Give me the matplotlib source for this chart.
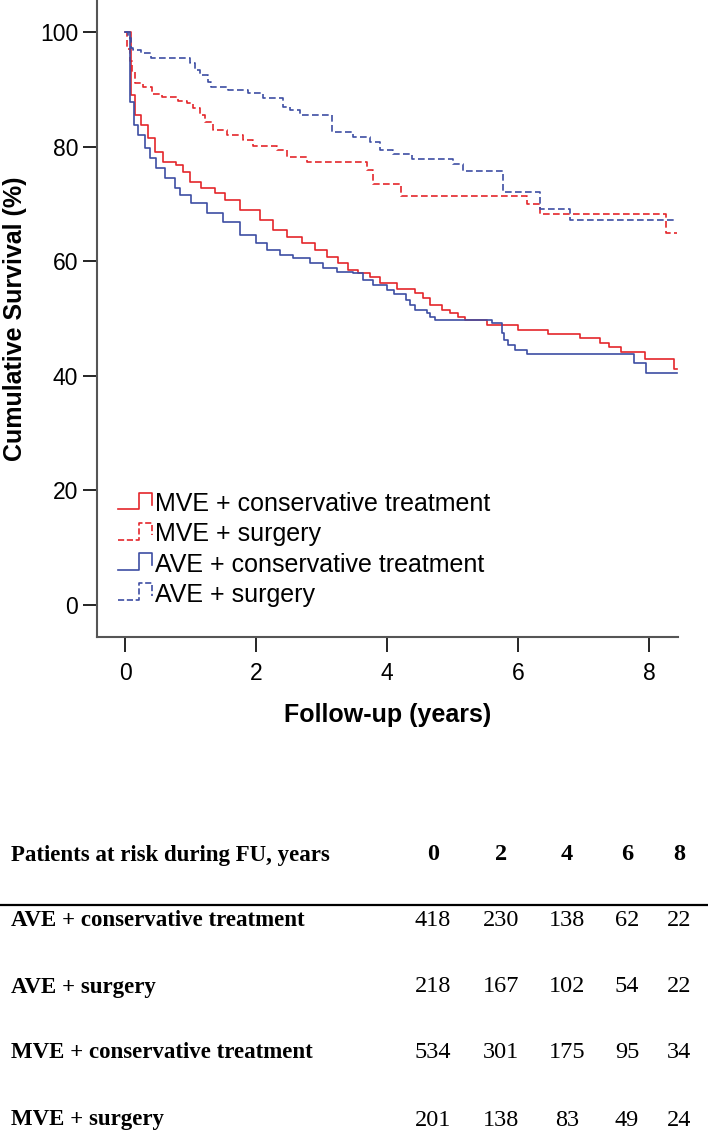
import matplotlib
matplotlib.use('Agg')
import matplotlib.pyplot as plt
from matplotlib.lines import Line2D
from matplotlib.legend_handler import HandlerBase

# ---------------- data ----------------
mve_cons_t = [0, 0.09, 0.15, 0.24, 0.35, 0.46, 0.58, 0.78, 0.89, 0.99, 1.16, 1.37, 1.52,
              1.76, 2.06, 2.26, 2.47, 2.70, 2.90, 3.08, 3.25, 3.40, 3.56, 3.74, 3.89,
              4.15, 4.43, 4.55, 4.66, 4.84, 4.96, 5.08, 5.19, 5.53, 6.00, 6.46, 6.95,
              7.25, 7.39, 7.57, 7.94, 8.38, 8.43]
mve_cons_s = [100, 89.0, 85.5, 83.8, 81.5, 79.1, 77.3, 76.8, 75.6, 73.8, 72.8, 71.9, 70.6,
              68.9, 67.2, 65.4, 64.2, 63.2, 62.0, 60.7, 59.7, 58.5, 57.9, 57.2, 56.2,
              55.1, 54.5, 53.6, 52.4, 51.5, 51.0, 50.3, 49.7, 48.9, 48.0, 47.3, 46.6,
              45.8, 45.0, 44.1, 42.9, 41.2, 41.2]

mve_surg_t = [0, 0.03, 0.07, 0.10, 0.15, 0.27, 0.41, 0.56, 0.81, 0.95, 1.04, 1.15, 1.22,
              1.34, 1.56, 1.80, 1.95, 2.32, 2.47, 2.78, 3.69, 3.79, 4.21, 6.14, 6.34,
              8.26, 8.43]
mve_surg_s = [100, 97.0, 95.0, 93.0, 91.1, 90.4, 89.2, 88.6, 88.0, 87.6, 86.7, 85.5, 84.3,
              82.9, 82.0, 81.2, 80.1, 79.4, 78.2, 77.3, 75.9, 73.5, 71.4, 70.0, 68.2,
              64.9, 64.9]

ave_cons_t = [0, 0.08, 0.14, 0.20, 0.30, 0.38, 0.47, 0.61, 0.76, 0.84, 1.00, 1.25, 1.50,
              1.75, 2.00, 2.16, 2.37, 2.56, 2.82, 3.02, 3.24, 3.48, 3.63, 3.79, 4.00,
              4.11, 4.28, 4.35, 4.43, 4.61, 4.66, 4.73, 5.60, 5.76, 5.78, 5.85, 5.95,
              6.14, 7.77, 7.95, 8.43]
ave_cons_s = [100, 87.8, 83.8, 82.0, 79.8, 78.0, 76.3, 74.5, 72.8, 71.6, 70.2, 68.4, 66.8,
              64.6, 63.2, 62.0, 61.1, 60.6, 59.7, 58.8, 58.1, 57.9, 56.7, 55.8, 55.0,
              54.3, 53.2, 52.4, 51.5, 51.0, 50.3, 49.7, 49.2, 47.5, 46.2, 45.4, 44.5,
              43.8, 42.2, 40.5, 40.5]

ave_surg_t = [0, 0.04, 0.09, 0.12, 0.24, 0.40, 0.99, 1.07, 1.15, 1.27, 1.31, 1.57, 1.88,
              2.11, 2.41, 2.52, 2.67, 3.16, 3.48, 3.74, 3.89, 4.09, 4.38, 5.01, 5.16,
              5.77, 6.34, 6.79, 8.43]
ave_surg_s = [100, 98.9, 97.2, 96.9, 96.3, 95.4, 94.6, 93.4, 92.5, 91.3, 90.4, 89.9, 89.4,
              88.5, 86.9, 86.4, 85.5, 82.6, 81.7, 80.8, 79.4, 78.7, 77.8, 77.0, 75.7,
              72.1, 69.1, 67.2, 67.2]

legend_labels = ["MVE + conservative treatment", "MVE + surgery",
                 "AVE + conservative treatment", "AVE + surgery"]

x_ticks = [0, 2, 4, 6, 8]
y_ticks = [0, 20, 40, 60, 80, 100]

risk_title = "Patients at risk during FU, years"
risk_years = ["0", "2", "4", "6", "8"]
risk_groups = ["AVE + conservative treatment", "AVE + surgery",
               "MVE + conservative treatment", "MVE + surgery"]
risk_ave_cons = [418, 230, 138, 62, 22]
risk_ave_surg = [218, 167, 102, 54, 22]
risk_mve_cons = [534, 301, 175, 95, 34]
risk_mve_surg = [201, 138, 83, 49, 24]

# ---------------- styling ----------------
RED = '#e4262b'
BLUE = '#3d4ea3'
W, H = 708, 1136

plt.rcParams['font.family'] = ['Liberation Sans', 'DejaVu Sans']

fig = plt.figure(figsize=(W / 100, H / 100), dpi=100)


def fx(x):
    return x / W


def fy(y):
    return 1 - y / H


ax_l, ax_r, ax_t, ax_b = 97, 678, 0, 637
ax = fig.add_axes([fx(ax_l), fy(ax_b), (ax_r - ax_l) / W, (ax_b - ax_t) / H])

lw = 1.2
ax.step(mve_cons_t, mve_cons_s, where='post', color=RED, lw=lw, ls='-', label=legend_labels[0])
ax.step(mve_surg_t, mve_surg_s, where='post', color=RED, lw=lw, ls=(0, (4, 2)), label=legend_labels[1])
ax.step(ave_cons_t, ave_cons_s, where='post', color=BLUE, lw=lw, ls='-', label=legend_labels[2])
ax.step(ave_surg_t, ave_surg_s, where='post', color=BLUE, lw=lw, ls=(0, (4, 2)), label=legend_labels[3])

ax.set_xlim(-0.43, 8.44)
ax.set_ylim(-5.6, 105.6)
ax.set_xticks(x_ticks)
ax.set_yticks(y_ticks)
ax.spines['top'].set_visible(False)
ax.spines['right'].set_visible(False)
for s in ('left', 'bottom'):
    ax.spines[s].set_color('#555555')
    ax.spines[s].set_linewidth(1.5)
ax.tick_params(axis='y', length=10, width=1.2, color='black', labelsize=16.5, pad=3.5)
ax.tick_params(axis='x', length=11, width=1.2, color='black', labelsize=16.5, pad=7)

ax.set_xlabel("Follow-up (years)", fontsize=18, fontweight='bold', labelpad=13)
ax.set_ylabel("Cumulative Survival (%)", fontsize=18, fontweight='bold', labelpad=9)


class StepHandler(HandlerBase):
    def create_artists(self, legend, orig_handle, xdescent, ydescent, width, height,
                       fontsize, trans):
        x0, y0 = -xdescent, -ydescent
        xs = [x0, x0 + 0.6 * width, x0 + 0.6 * width, x0 + width, x0 + width]
        ys = [y0 + 0.1 * height, y0 + 0.1 * height, y0 + 1.05 * height,
              y0 + 1.05 * height, y0 + 0.35 * height]
        ln = Line2D(xs, ys, color=orig_handle.get_color(),
                    linestyle=orig_handle.get_linestyle(),
                    linewidth=orig_handle.get_linewidth())
        ln.set_transform(trans)
        return [ln]


handles, labels = ax.get_legend_handles_labels()
ax.legend(handles, labels, handler_map={h: StepHandler() for h in handles},
          loc='upper left', bbox_to_anchor=((118 - ax_l) / (ax_r - ax_l), (ax_b - 492) / (ax_b - ax_t)),
          frameon=False, fontsize=18, borderpad=0, borderaxespad=0,
          handlelength=1.37, handletextpad=0.12, labelspacing=0.25)

# ---------------- at-risk table ----------------
col_x = [433, 501, 567, 627, 679]
row_y = [921, 987, 1053, 1120]
serif = ['Liberation Serif', 'DejaVu Serif']
lab_fs = 16.5
num_fs = 17.5

fig.text(fx(11), fy(855), risk_title, family=serif, fontsize=lab_fs, fontweight='bold',
         ha='left', va='center')
for cx, lab in zip(col_x, risk_years):
    fig.text(fx(cx), fy(855), lab, family=serif, fontsize=num_fs, fontweight='bold',
             ha='center', va='center')

fig.add_artist(Line2D([0, 1], [fy(905), fy(905)], transform=fig.transFigure,
                      color='black', lw=1.6))

rows = [risk_ave_cons, risk_ave_surg, risk_mve_cons, risk_mve_surg]
for ry, grp, vals in zip(row_y, risk_groups, rows):
    fig.text(fx(11), fy(ry), grp, family=serif, fontsize=lab_fs, fontweight='bold',
             ha='left', va='center')
    for cx, v in zip(col_x, vals):
        fig.text(fx(cx), fy(ry), str(v), family=serif, fontsize=num_fs,
                 ha='center', va='center')

fig.savefig('out.png', dpi=100)
